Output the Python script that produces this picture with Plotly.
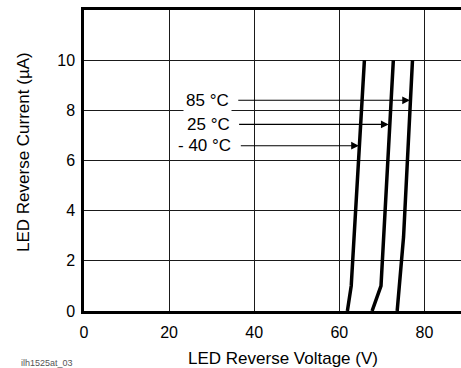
import plotly.graph_objects as go

# Reverse I-V characteristic of the LED at three temperatures
voltage_m40 = [61.9, 62.8, 65.9]
current_m40 = [0.0, 1.0, 10.0]

voltage_25 = [67.7, 69.8, 72.7]
current_25 = [0.0, 1.0, 10.0]

voltage_85 = [73.6, 75.1, 77.2]
current_85 = [0.0, 2.95, 10.0]

# Callout labels: text, y level, arrow tail x, arrow tip x
label_text = ["85 °C", "25 °C", "- 40 °C"]
label_y = [8.4, 7.44, 6.59]
label_tail_x = [35.9, 36.1, 36.5]
label_tip_x = [76.6, 71.6, 64.6]

x_ticks = [0, 20, 40, 60, 80]
y_ticks = [0, 2, 4, 6, 8, 10]

FONT = "Liberation Sans, Arial, Helvetica, sans-serif"

# plot area in pixels: left 84, right 461, top 10, bottom 311
PL, PW, PB, PH = 84, 377, 311, 301


def px_to_paper(px, py):
    return (px - PL) / PW, (PB - py) / PH


fig = go.Figure()
for vx, iy in [(voltage_m40, current_m40), (voltage_25, current_25), (voltage_85, current_85)]:
    fig.add_trace(go.Scatter(x=vx, y=iy, mode="lines",
                             line=dict(color="black", width=3.5),
                             showlegend=False, hoverinfo="skip"))

annotations = []
for txt, yv, tail, tip in zip(label_text, label_y, label_tail_x, label_tip_x):
    # arrow from the label to its curve
    annotations.append(dict(x=tip, y=yv, ax=tail, ay=yv, xref="x", yref="y",
                            axref="x", ayref="y", text="", showarrow=True,
                            arrowhead=2, arrowsize=1.4, arrowwidth=1.1,
                            arrowcolor="black"))
    annotations.append(dict(x=tail - 1.2, y=yv, xref="x", yref="y", text=txt,
                            showarrow=False, xanchor="right", yanchor="middle",
                            bgcolor="white", borderpad=2,
                            font=dict(family=FONT, size=17, color="black")))

xt_x, xt_y = px_to_paper(283, 358)
annotations.append(dict(x=xt_x, y=xt_y, xref="paper", yref="paper",
                        text="LED Reverse Voltage (V)", showarrow=False,
                        xanchor="center", yanchor="middle",
                        font=dict(family=FONT, size=17, color="black")))
yt_x, yt_y = px_to_paper(23.5, 152.5)
annotations.append(dict(x=yt_x, y=yt_y, xref="paper", yref="paper",
                        text="LED Reverse Current (µA)", showarrow=False,
                        textangle=-90, xanchor="center", yanchor="middle",
                        font=dict(family=FONT, size=17, color="black")))
id_x, id_y = px_to_paper(47, 363)
annotations.append(dict(x=id_x, y=id_y, xref="paper", yref="paper",
                        text="ilh1525at_03", showarrow=False,
                        xanchor="center", yanchor="middle",
                        font=dict(family=FONT, size=9, color="#555")))

fig.update_layout(
    width=461, height=368,
    margin=dict(l=PL, r=0, t=10, b=368 - PB),
    paper_bgcolor="white", plot_bgcolor="white",
    font=dict(family=FONT, size=16, color="black"),
    annotations=annotations,
    showlegend=False,
)
fig.update_xaxes(range=[0, 88.6], tickvals=x_ticks, ticks="",
                 ticklabelstandoff=5,
                 showgrid=True, gridcolor="#1a1a1a", gridwidth=1,
                 zeroline=False, showline=True, linecolor="black",
                 linewidth=2.5, mirror=True,
                 tickfont=dict(family=FONT, size=16, color="black"))
fig.update_yaxes(range=[0, 12], tickvals=y_ticks, ticks="",
                 ticklabelstandoff=3,
                 showgrid=True, gridcolor="#1a1a1a", gridwidth=1,
                 zeroline=False, showline=True, linecolor="black",
                 linewidth=2.5, mirror=False,
                 tickfont=dict(family=FONT, size=16, color="black"))

fig.write_html("out.html")
